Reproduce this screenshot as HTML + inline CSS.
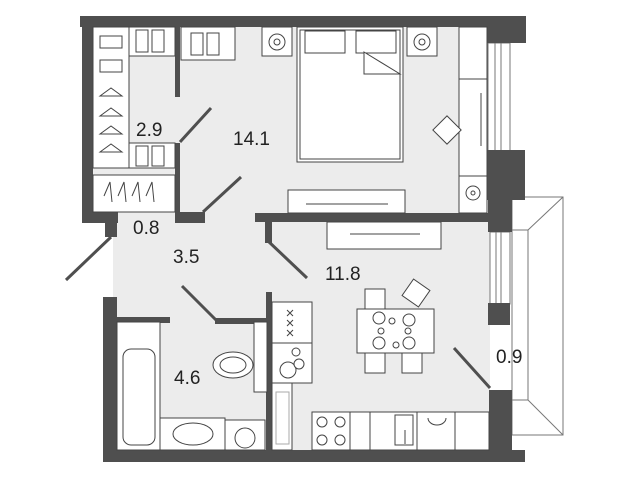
<!DOCTYPE html>
<html><head><meta charset="utf-8"><style>
html,body{margin:0;padding:0;background:#fff;width:631px;height:480px;overflow:hidden}
svg{display:block}
text{font-family:"Liberation Sans",sans-serif;fill:#222}
</style></head><body>
<svg width="631" height="480" viewBox="0 0 631 480" xmlns="http://www.w3.org/2000/svg">
<g fill="#ececec">
<rect x="93" y="27" width="394" height="186"/>
<rect x="113" y="212" width="160" height="110"/>
<rect x="117" y="318" width="150" height="132"/>
<rect x="272" y="222" width="218" height="228"/>
</g>
<g fill="#fff" stroke="#777" stroke-width="1">
<polygon points="512,197 563,197 563,435 512,435"/>
<rect x="512" y="230" width="16" height="170"/>
<line x1="528" y1="230" x2="563" y2="197"/>
<line x1="528" y1="400" x2="563" y2="435"/>
</g>
<g fill="#fff" stroke="#777" stroke-width="1">
<rect x="488" y="43" width="22" height="110"/>
<line x1="495" y1="43" x2="495" y2="153"/><line x1="501" y1="43" x2="501" y2="153"/>
<rect x="490" y="232" width="20" height="72"/>
<line x1="496" y1="232" x2="496" y2="304"/><line x1="501" y1="232" x2="501" y2="304"/>
</g>
<g fill="#4f4f4f">
<rect x="80" y="16" width="446" height="11"/>
<rect x="82" y="16" width="11" height="207"/>
<rect x="82" y="212" width="36" height="11"/>
<rect x="105" y="223" width="12" height="14"/>
<rect x="175" y="27" width="5" height="70"/>
<rect x="175" y="143" width="5" height="80"/>
<rect x="175" y="212" width="30" height="11"/>
<rect x="255" y="213" width="235" height="9"/>
<rect x="265" y="222" width="7" height="21"/>
<rect x="487" y="16" width="39" height="27"/>
<rect x="487" y="150" width="38" height="50"/>
<rect x="488" y="197" width="24" height="35"/>
<rect x="488" y="303" width="22" height="22"/>
<rect x="489" y="390" width="23" height="72"/>
<rect x="103" y="297" width="14" height="165"/>
<rect x="103" y="450" width="422" height="12"/>
<rect x="117" y="317" width="53" height="6"/>
<rect x="215" y="318" width="55" height="6"/>
<rect x="266" y="292" width="6" height="160"/>
</g>
<g stroke="#4f4f4f" stroke-width="3">
<line x1="111" y1="237" x2="66" y2="280"/>
<line x1="203" y1="212" x2="241" y2="177"/>
<line x1="180" y1="142" x2="211" y2="108"/>
<line x1="268" y1="241" x2="307" y2="278"/>
<line x1="182" y1="286" x2="216" y2="320"/>
<line x1="454" y1="348" x2="490" y2="388"/>
</g>
<g fill="#fff" stroke="#444" stroke-width="1">
<rect x="93" y="27" width="36" height="141"/>
<rect x="129" y="27" width="46" height="29"/>
<rect x="181" y="27" width="54" height="33"/>
<rect x="129" y="143" width="46" height="25"/>
<rect x="93" y="175" width="82" height="37"/>
<rect x="262" y="27" width="30" height="29"/>
<rect x="407" y="27" width="30" height="29"/>
<circle cx="277" cy="42" r="8"/><circle cx="277" cy="42" r="3"/>
<circle cx="422" cy="42" r="8"/><circle cx="422" cy="42" r="3"/>
<rect x="297" y="27" width="106" height="135"/>
<rect x="300" y="30" width="100" height="129"/>
<rect x="305" y="31" width="40" height="22"/><rect x="356" y="31" width="40" height="22"/>
<polygon points="364,52 400,74 364,74"/>
<rect x="459" y="27" width="28" height="186"/>
<line x1="459" y1="79" x2="487" y2="79"/><line x1="459" y1="176" x2="487" y2="176"/>
<circle cx="473" cy="193" r="7"/><circle cx="473" cy="193" r="2"/>
<rect x="437" y="120" width="20" height="20" transform="rotate(45 447 130)"/>
<rect x="288" y="190" width="117" height="23"/>
<line x1="306" y1="204" x2="388" y2="204"/>
<rect x="327" y="222" width="114" height="27"/>
<line x1="350" y1="234" x2="420" y2="234"/>
<rect x="117" y="322" width="43" height="128"/>
<rect x="123" y="349" width="32" height="96" rx="8"/>
<rect x="160" y="418" width="65" height="32"/>
<ellipse cx="193" cy="434" rx="20" ry="11"/>
<rect x="225" y="420" width="40" height="30"/>
<circle cx="245" cy="438" r="10"/>
<rect x="254" y="322" width="13" height="70"/>
<ellipse cx="233" cy="365" rx="20" ry="13"/>
<ellipse cx="233" cy="365" rx="13" ry="8"/>
<rect x="272" y="302" width="40" height="41"/>
<rect x="272" y="343" width="40" height="40"/>
<circle cx="288" cy="370" r="8"/><circle cx="296" cy="352" r="4"/><circle cx="299" cy="364" r="5"/>
<rect x="272" y="383" width="20" height="67"/>
<rect x="276" y="392" width="13" height="52" stroke="#aaa"/>
<rect x="312" y="412" width="177" height="38"/>
<rect x="312" y="412" width="38" height="38"/>
<circle cx="322" cy="422" r="5"/><circle cx="340" cy="422" r="5"/><circle cx="322" cy="440" r="5"/><circle cx="340" cy="440" r="5"/>
<rect x="370" y="412" width="47" height="38"/>
<rect x="395" y="415" width="18" height="30"/>
<rect x="417" y="412" width="38" height="38"/>
<rect x="365" y="289" width="20" height="22"/>
<rect x="365" y="351" width="20" height="22"/>
<rect x="402" y="351" width="20" height="22"/>
<rect x="406" y="283" width="20" height="20" transform="rotate(35 416 293)"/>
<rect x="357" y="309" width="77" height="44"/>
<circle cx="379" cy="318" r="6"/><circle cx="392" cy="321" r="3"/><circle cx="409" cy="320" r="6"/>
<circle cx="381" cy="331" r="3"/><circle cx="408" cy="331" r="3"/>
<circle cx="379" cy="343" r="6"/><circle cx="396" cy="345" r="3"/><circle cx="409" cy="343" r="6"/>
</g>
<!-- small details -->
<g fill="none" stroke="#444" stroke-width="1">
<path d="M100,96 L111,88 L122,96 Z M100,116 L111,108 L122,116 Z M100,134 L111,126 L122,134 Z M100,152 L111,144 L122,152 Z"/>
<path d="M104,196 L110,182 L112,202 M118,196 L124,182 L126,202 M132,196 L138,182 L140,202 M146,196 L152,182 L154,202"/>
<rect x="100" y="36" width="22" height="12"/><rect x="100" y="60" width="22" height="12"/>
<rect x="136" y="30" width="12" height="22"/><rect x="152" y="30" width="12" height="22"/>
<rect x="191" y="33" width="12" height="22"/><rect x="207" y="33" width="12" height="22"/>
<rect x="136" y="146" width="12" height="20"/><rect x="152" y="146" width="12" height="20"/>
<path d="M287,310 l6,6 m0,-6 l-6,6 M287,320 l6,6 m0,-6 l-6,6 M287,330 l6,6 m0,-6 l-6,6"/>
<line x1="481" y1="93" x2="481" y2="146"/>
<line x1="405" y1="430" x2="405" y2="444"/>
<path d="M428,418 a9,7 0 0 0 18,0"/>
</g>
<g font-size="19">
<text x="136" y="136">2.9</text>
<text x="233" y="145">14.1</text>
<text x="133" y="234">0.8</text>
<text x="173" y="263">3.5</text>
<text x="325" y="280">11.8</text>
<text x="174" y="384">4.6</text>
<text x="496" y="363">0.9</text>
</g>
</svg>
</body></html>
